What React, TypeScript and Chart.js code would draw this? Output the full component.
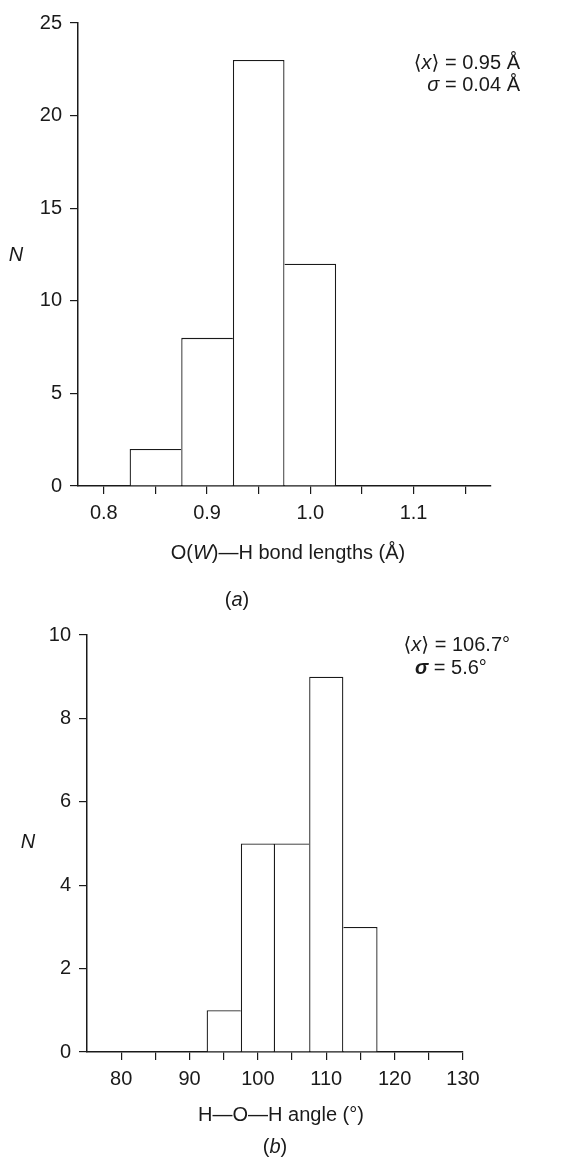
import React, { useEffect, useRef } from 'react';
import { Chart, registerables } from 'chart.js';

Chart.register(...registerables);

const FONT = '"Liberation Sans", Arial, "DejaVu Sans", sans-serif';
const INK = '#1a1a1a';

// ---- Panel (a): O(W)–H bond lengths ----
const aBinCenters = [0.85, 0.9, 0.95, 1.0];
const aCounts = [2, 8, 23, 12];
const aXTicks = [0.8, 0.85, 0.9, 0.95, 1.0, 1.05, 1.1, 1.15];
const aXTickLabels = ['0.8', '', '0.9', '', '1.0', '', '1.1', ''];
const aYMax = 25;
const aYStep = 5;

// ---- Panel (b): H–O–H angle ----
const bBinCenters = [95, 100, 105, 110, 115];
const bCounts = [1, 5, 5, 9, 3];
const bXTicks = [80, 85, 90, 95, 100, 105, 110, 115, 120, 125, 130];
const bXTickLabels = ['80', '', '90', '', '100', '', '110', '', '120', '', '130'];
const bYMax = 10;
const bYStep = 2;

type Run = { t: string; i?: boolean; b?: boolean };
type Label = { runs: Run[]; x: number; y: number; align: 'left' | 'right' | 'center'; size: number };

function drawRuns(ctx: CanvasRenderingContext2D, lab: Label) {
  const fontOf = (r: Run) => `${r.i ? 'italic ' : ''}${r.b ? 'bold ' : ''}${lab.size}px ${FONT}`;
  const widths = lab.runs.map((r) => {
    ctx.font = fontOf(r);
    return ctx.measureText(r.t).width;
  });
  const total = widths.reduce((a, b) => a + b, 0);
  let x = lab.x;
  if (lab.align === 'right') x = lab.x - total;
  else if (lab.align === 'center') x = lab.x - total / 2;
  ctx.save();
  ctx.fillStyle = INK;
  ctx.textBaseline = 'middle';
  ctx.textAlign = 'left';
  lab.runs.forEach((r, k) => {
    ctx.font = fontOf(r);
    ctx.fillText(r.t, x, lab.y);
    x += widths[k];
  });
  ctx.restore();
}

type HistProps = {
  width: number;
  height: number;
  centers: number[];
  counts: number[];
  xMin: number;
  xMax: number;
  xTicks: number[];
  xTickLabels: string[];
  yMax: number;
  yStep: number;
  yAxisWidth: number;
  xAxisHeight: number;
  padTop: number;
  padRight: number;
  labels: Label[];
};

function Histogram(p: HistProps) {
  const ref = useRef<HTMLCanvasElement | null>(null);
  useEffect(() => {
    if (!ref.current) return;
    const n = p.counts.length;
    const bw = 1.3;
    const textPlugin = {
      id: 'texts',
      afterDraw(chart: any) {
        p.labels.forEach((l) => drawRuns(chart.ctx, l));
      },
    };
    const chart = new Chart(ref.current, {
      type: 'bar',
      data: {
        datasets: [
          {
            data: p.centers.map((c, k) => ({ x: c, y: p.counts[k] })),
            backgroundColor: '#ffffff',
            borderColor: INK,
            borderWidth: (ctx: any) => {
              const k = ctx.dataIndex;
              const c = p.counts[k];
              const prev = k > 0 ? p.counts[k - 1] : -1;
              const next = k < n - 1 ? p.counts[k + 1] : -1;
              // shared edge drawn once, by the taller neighbour
              const left = k === 0 || prev < c ? bw : 0;
              const right = k === n - 1 || next <= c ? bw : 0;
              return { top: bw, left, right, bottom: 0 };
            },
            borderSkipped: 'bottom',
            inflateAmount: 0,
            barPercentage: 1,
            categoryPercentage: 1,
          } as any,
        ],
      },
      options: {
        animation: false,
        responsive: false,
        events: [],
        layout: { padding: { top: p.padTop, right: p.padRight, left: 0, bottom: 0 } },
        plugins: { legend: { display: false }, tooltip: { enabled: false } },
        scales: {
          x: {
            type: 'linear',
            min: p.xMin,
            max: p.xMax,
            offset: false,
            afterBuildTicks: (axis: any) => {
              axis.ticks = p.xTicks.map((v) => ({ value: v }));
            },
            afterFit: (axis: any) => {
              axis.height = p.xAxisHeight;
            },
            ticks: {
              autoSkip: false,
              maxRotation: 0,
              padding: 7,
              color: INK,
              font: { family: FONT, size: 20 },
              callback: (v: any, idx: number) => p.xTickLabels[idx] ?? '',
            },
            grid: {
              offset: false,
              drawOnChartArea: false,
              drawTicks: true,
              tickLength: 8,
              color: INK,
              lineWidth: 1.2,
            },
            border: { display: true, color: INK, width: 1.5 },
          },
          y: {
            type: 'linear',
            min: 0,
            max: p.yMax,
            afterFit: (axis: any) => {
              axis.width = p.yAxisWidth;
            },
            ticks: {
              stepSize: p.yStep,
              padding: 8,
              color: INK,
              font: { family: FONT, size: 20 },
            },
            grid: {
              drawOnChartArea: false,
              drawTicks: true,
              tickLength: 8,
              color: INK,
              lineWidth: 1.2,
            },
            border: { display: true, color: INK, width: 1.5 },
          },
        },
      } as any,
      plugins: [textPlugin],
    });
    return () => chart.destroy();
  }, []);
  return <canvas ref={ref} width={p.width} height={p.height} style={{ display: 'block' }} />;
}

export default function App() {
  return (
    <div style={{ position: 'absolute', left: 0, top: 0, width: 588, height: 1157, background: '#ffffff' }}>
      <Histogram
        width={588}
        height={615}
        centers={aBinCenters}
        counts={aCounts}
        xMin={0.775}
        xMax={1.175}
        xTicks={aXTicks}
        xTickLabels={aXTickLabels}
        yMax={aYMax}
        yStep={aYStep}
        yAxisWidth={78}
        xAxisHeight={129}
        padTop={23}
        padRight={97}
        labels={[
          { runs: [{ t: 'N', i: true }], x: 16, y: 255, align: 'center', size: 20 },
          { runs: [{ t: '⟨' }, { t: 'x', i: true }, { t: '⟩ = 0.95 Å' }], x: 520, y: 63, align: 'right', size: 20 },
          { runs: [{ t: 'σ', i: true }, { t: ' = 0.04 Å' }], x: 520, y: 85, align: 'right', size: 20 },
          { runs: [{ t: 'O(' }, { t: 'W', i: true }, { t: ')—H bond lengths (Å)' }], x: 288, y: 553, align: 'center', size: 20 },
          { runs: [{ t: '(' }, { t: 'a', i: true }, { t: ')' }], x: 237, y: 600, align: 'center', size: 20 },
        ]}
      />
      <Histogram
        width={588}
        height={542}
        centers={bBinCenters}
        counts={bCounts}
        xMin={75}
        xMax={130}
        xTicks={bXTicks}
        xTickLabels={bXTickLabels}
        yMax={bYMax}
        yStep={bYStep}
        yAxisWidth={87}
        xAxisHeight={105}
        padTop={17}
        padRight={125}
        labels={[
          { runs: [{ t: 'N', i: true }], x: 28, y: 227, align: 'center', size: 20 },
          { runs: [{ t: '⟨' }, { t: 'x', i: true }, { t: '⟩ = 106.7°' }], x: 510, y: 30, align: 'right', size: 20 },
          { runs: [{ t: 'σ', i: true, b: true }, { t: ' = 5.6°' }], x: 415, y: 53, align: 'left', size: 20 },
          { runs: [{ t: 'H—O—H angle (°)' }], x: 281, y: 500, align: 'center', size: 20 },
          { runs: [{ t: '(' }, { t: 'b', i: true }, { t: ')' }], x: 275, y: 532, align: 'center', size: 20 },
        ]}
      />
    </div>
  );
}
